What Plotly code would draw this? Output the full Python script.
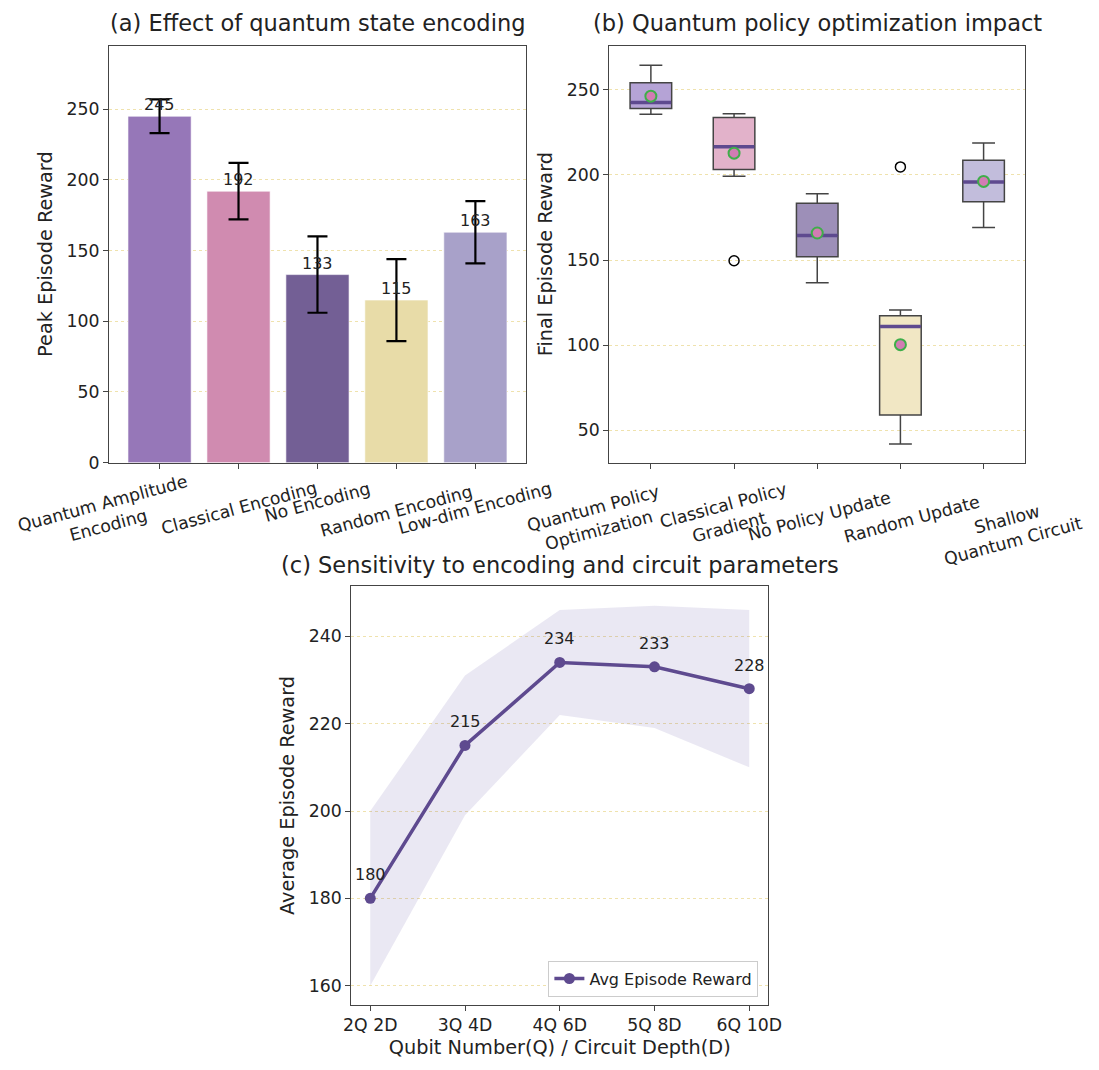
import plotly.graph_objects as go

# ---------------- data ----------------
enc_labels = ["Quantum Amplitude<br>Encoding", "Classical Encoding", "No Encoding",
              "Random Encoding", "Low-dim Encoding"]
enc_peak = [245, 192, 133, 115, 163]
enc_err = [12, 20, 27, 29, 22]

pol_labels = ["Quantum Policy<br>Optimization", "Classical Policy<br>Gradient", "No Policy Update",
              "Random Update", "Shallow<br>Quantum Circuit"]
pol_low = [235.7, 199.3, 136.6, 41.9, 169.1]
pol_q1 = [239.0, 203.2, 152.0, 59.0, 184.2]
pol_med = [242.6, 216.5, 164.5, 110.9, 195.8]
pol_q3 = [254.1, 233.7, 183.4, 117.3, 208.6]
pol_high = [264.5, 236.0, 189.0, 120.6, 218.7]
pol_mean = [246.3, 212.8, 165.9, 100.3, 196.2]
outlier_idx = [1, 3]
outlier_val = [149.6, 204.7]

sens_labels = ["2Q 2D", "3Q 4D", "4Q 6D", "5Q 8D", "6Q 10D"]
sens_avg = [180, 215, 234, 233, 228]
sens_upper = [200, 231, 246, 247, 246]
sens_lower = [160, 199, 222, 219, 210]

# style: colours and nudges (px) of the rotated category labels
bar_colors = ["#9677b8", "#d08bb0", "#735f95", "#e8dca8", "#a8a1c9"]
box_colors = ["#b5a3d6", "#e2b2ca", "#9d8fb8", "#f1e7c4", "#c2bddc"]
enc_label_dx = [-54, 0, 0, 0, 0]
enc_label_dy = [-6, -13, -13, -16, -13]
pol_label_dx = [-55, -8, 2, 12, 26]
pol_label_dy = [-16, -14, -22, -26, -26]
PURPLE = "#5e4a8f"

FONT = "DejaVu Sans"
TXT = "#222222"
GRID = "#efe2ad"
TICK = 17.3
SMALL = 16
LAB = 19.3
TITLE = 22.5

fig = go.Figure()

# ---------------- (a) bars ----------------
xa = list(range(len(enc_labels)))
fig.add_trace(go.Bar(
    x=xa, y=enc_peak, width=0.8,
    marker=dict(color=bar_colors, line=dict(color="rgba(255,255,255,0.6)", width=1)),
    error_y=dict(type="data", array=enc_err, color="black", thickness=2.2, width=10),
    xaxis="x", yaxis="y", showlegend=False))
for i, v in enumerate(enc_peak):
    fig.add_annotation(x=xa[i], y=v, xref="x", yref="y", text=str(v), showarrow=False,
                       yanchor="bottom", yshift=0, font=dict(family=FONT, size=SMALL, color=TXT))

# ---------------- (b) boxes ----------------
for i in range(len(pol_labels)):
    fig.add_trace(go.Box(
        x=[i], q1=[pol_q1[i]], median=[pol_med[i]], q3=[pol_q3[i]],
        lowerfence=[pol_low[i]], upperfence=[pol_high[i]],
        width=0.5, fillcolor=box_colors[i], whiskerwidth=0.55,
        line=dict(color="#444444", width=1.5),
        xaxis="x2", yaxis="y2", showlegend=False, hoverinfo="skip"))
    fig.add_trace(go.Scatter(
        x=[i - 0.245, i + 0.245], y=[pol_med[i], pol_med[i]], mode="lines",
        line=dict(color=PURPLE, width=3.5), xaxis="x2", yaxis="y2", showlegend=False))
fig.add_trace(go.Scatter(
    x=outlier_idx, y=outlier_val, mode="markers",
    marker=dict(symbol="circle-open", size=10, color="black", line=dict(width=1.5)),
    xaxis="x2", yaxis="y2", showlegend=False))
fig.add_trace(go.Scatter(
    x=list(range(len(pol_labels))), y=pol_mean, mode="markers",
    marker=dict(symbol="circle", size=11, color="#d27cb3", line=dict(color="#3fae4a", width=2)),
    xaxis="x2", yaxis="y2", showlegend=False))

# rotated category labels for (a) and (b)
for labels, dxs, dys, xr, yr in [(enc_labels, enc_label_dx, enc_label_dy, "x", "y domain"),
                                 (pol_labels, pol_label_dx, pol_label_dy, "x2", "y2 domain")]:
    for i, lab in enumerate(labels):
        fig.add_annotation(x=i, y=0, xref=xr, yref=yr, text=lab, showarrow=False,
                           textangle=-15, xanchor="center", yanchor="top", align="center",
                           yshift=dys[i], xshift=dxs[i], font=dict(family=FONT, size=TICK, color=TXT))

# ---------------- (c) line ----------------
xc = list(range(len(sens_labels)))
fig.add_trace(go.Scatter(x=xc, y=sens_upper, mode="lines", line=dict(width=0),
                         xaxis="x3", yaxis="y3", showlegend=False, hoverinfo="skip"))
fig.add_trace(go.Scatter(x=xc, y=sens_lower, mode="lines", line=dict(width=0),
                         fill="tonexty", fillcolor="rgba(94,74,160,0.13)",
                         xaxis="x3", yaxis="y3", showlegend=False, hoverinfo="skip"))
fig.add_trace(go.Scatter(x=xc, y=sens_avg, mode="lines+markers", name="Avg Episode Reward",
                         line=dict(color=PURPLE, width=3.5), marker=dict(size=11, color=PURPLE),
                         xaxis="x3", yaxis="y3", showlegend=True))
for i, v in enumerate(sens_avg):
    fig.add_annotation(x=xc[i], y=v, xref="x3", yref="y3", text=str(v), showarrow=False,
                       yanchor="bottom", yshift=12, font=dict(family=FONT, size=SMALL, color=TXT))

# ---------------- axes ----------------
def xax(domain, anchor, labels, rng, show):
    return dict(domain=domain, anchor=anchor, range=rng, tickmode="array",
                tickvals=list(range(len(labels))), ticktext=labels, tickangle=0,
                showticklabels=show,
                showline=True, mirror=True, linecolor="#444444", linewidth=1.3,
                ticks="outside", ticklen=5, tickcolor="#444444", showgrid=False, zeroline=False,
                tickfont=dict(family=FONT, size=TICK, color=TXT))

def yax(domain, anchor, rng, dtick, title, tick0=0):
    return dict(domain=domain, anchor=anchor, range=rng, dtick=dtick, tick0=tick0,
                showline=True, mirror=True, linecolor="#444444", linewidth=1.3,
                ticks="outside", ticklen=5, tickcolor="#444444",
                showgrid=True, gridcolor=GRID, griddash="dot", gridwidth=1, zeroline=False,
                tickfont=dict(family=FONT, size=TICK, color=TXT),
                title=dict(text=title, font=dict(family=FONT, size=LAB, color=TXT), standoff=8))

W, H = 1099, 1070
fig.update_layout(
    width=W, height=H, margin=dict(l=0, r=0, t=0, b=0),
    paper_bgcolor="white", plot_bgcolor="white",
    font=dict(family=FONT, color=TXT),
    xaxis=xax([103 / W, 528 / W], "y", enc_labels, [-0.64, 4.64], False),
    yaxis=yax([1 - 467 / H, 1 - 46 / H], "x", [0, 295], 50, "Peak Episode Reward"),
    xaxis2=xax([613 / W, 1037 / W], "y2", pol_labels, [-0.5, 4.5], False),
    yaxis2=yax([1 - 467 / H, 1 - 46 / H], "x2", [31, 276], 50, "Final Episode Reward"),
    xaxis3=xax([350 / W, 775 / W], "y3", sens_labels, [-0.2, 4.2], True),
    yaxis3=yax([1 - 1014 / H, 1 - 592 / H], "x3", [155.7, 251.4], 20, "Average Episode Reward"),
    legend=dict(x=765 / W, y=1 - 1006 / H, xanchor="right", yanchor="bottom",
                bordercolor="#cccccc", borderwidth=1, bgcolor="white",
                font=dict(family=FONT, size=SMALL, color=TXT)),
)
fig.update_layout(xaxis3_title=dict(text="Qubit Number(Q) / Circuit Depth(D)",
                                    font=dict(family=FONT, size=LAB, color=TXT), standoff=6))

titles = [("(a) Effect of quantum state encoding", (103 + 528) / 2, 23),
          ("(b) Quantum policy optimization impact", (613 + 1037) / 2, 23),
          ("(c) Sensitivity to encoding and circuit parameters", (350 + 775) / 2, 570)]
for t, cx, cy in titles:
    fig.add_annotation(x=cx / W, y=1 - cy / H, xref="paper", yref="paper", text=t,
                       showarrow=False, xanchor="center", yanchor="middle",
                       font=dict(family=FONT, size=TITLE, color=TXT))

fig.write_html("out.html")
